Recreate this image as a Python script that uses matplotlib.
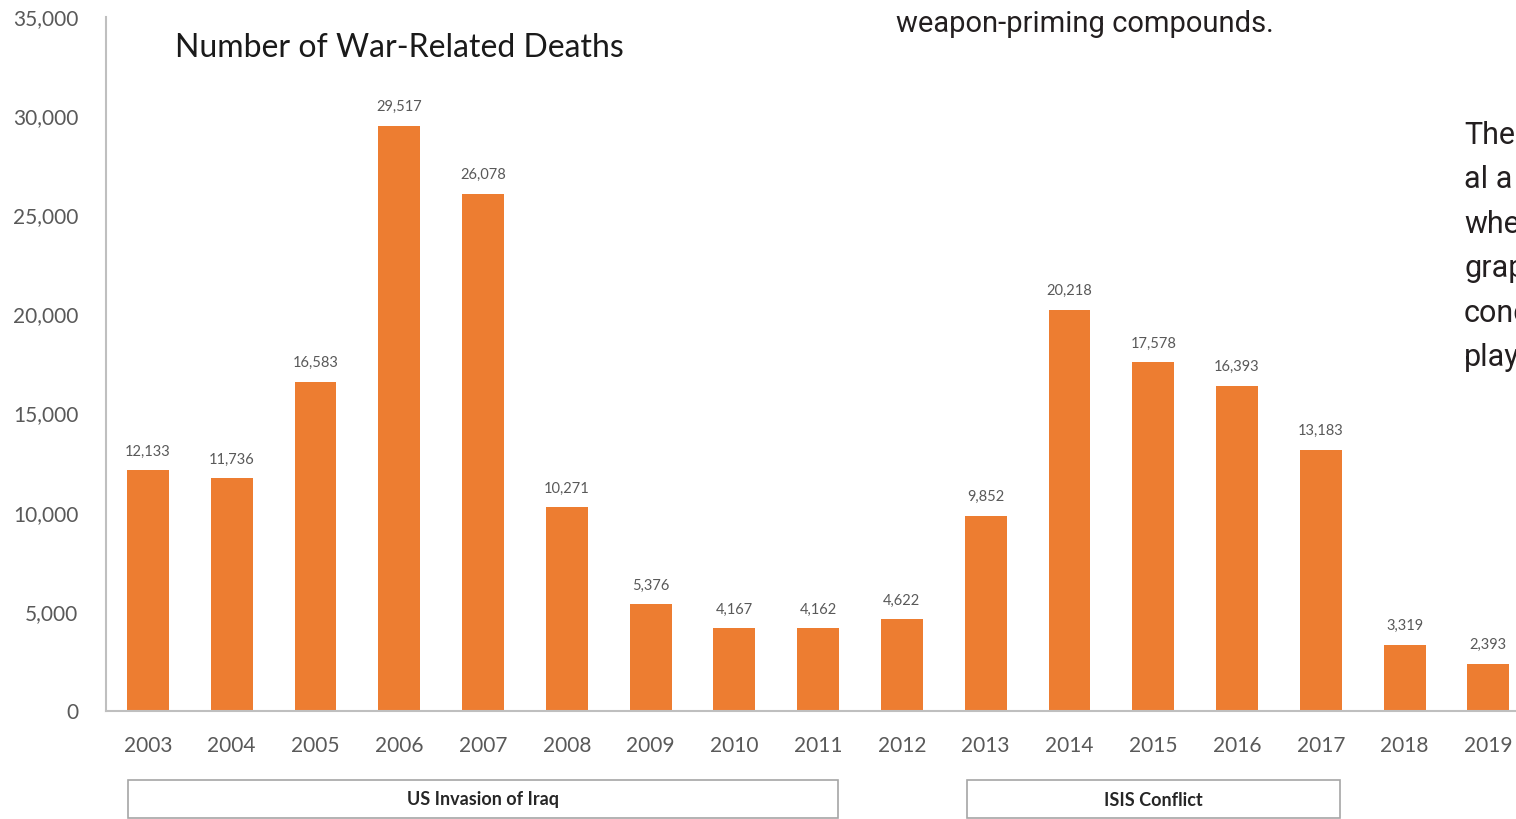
import matplotlib
matplotlib.use("Agg")
import matplotlib.pyplot as plt
from matplotlib.patches import Rectangle
import matplotlib.transforms as mtransforms

years = ["2003", "2004", "2005", "2006", "2007", "2008", "2009", "2010", "2011",
         "2012", "2013", "2014", "2015", "2016", "2017", "2018", "2019"]
deaths = [12133, 11736, 16583, 29517, 26078, 10271, 5376, 4167, 4162,
          4622, 9852, 20218, 17578, 16393, 13183, 3319, 2393]
periods = ["US Invasion of Iraq", "ISIS Conflict"]
period_span = [(-0.24, 8.24), (9.78, 14.23)]
side_text = ["The", "al a", "whe", "grap", "conc", "play"]

orange = "#ED7D31"
grey = "#595959"

plt.rcParams['font.family'] = ['Lato', 'DejaVu Sans']

fig = plt.figure(figsize=(15.16, 8.19), dpi=100)
ax = fig.add_axes([106 / 1516, 108 / 819, 1 - 106 / 1516, (711 - 17) / 819])

x = list(range(len(years)))
ax.bar(x, deaths, width=0.5, color=orange)
for xi, v in zip(x, deaths):
    ax.text(xi, v + 600, f"{v:,}", ha="center", va="bottom", fontsize=10.5, color=grey)

ax.set_xlim(-0.5, 16.33)
ax.set_ylim(0, 35000)
ax.set_yticks(range(0, 35001, 5000))
ax.set_yticklabels([f"{t:,}" for t in range(0, 35001, 5000)])
ax.set_xticks(x)
ax.set_xticklabels(years)
ax.tick_params(axis="y", length=0, pad=20, labelsize=15, labelcolor=grey)
ax.tick_params(axis="x", length=0, pad=18, labelsize=15, labelcolor=grey)
for s in ["top", "right"]:
    ax.spines[s].set_visible(False)
for s in ["left", "bottom"]:
    ax.spines[s].set_color("#BFBFBF")
    ax.spines[s].set_linewidth(1.5)

fig.text(175 / 1516, 1 - 48 / 819, "Number of War-Related Deaths", fontsize=23,
         color="#1a1a1a", ha="left", va="center")

# period boxes below the axis
trans = mtransforms.blended_transform_factory(ax.transData, fig.transFigure)
for name, (x0, x1) in zip(periods, period_span):
    ax.add_patch(Rectangle((x0, 1 / 819), x1 - x0, 38 / 819, transform=trans,
                           facecolor="white", edgecolor="#A6A6A6", linewidth=1.2,
                           clip_on=False))
    ax.text((x0 + x1) / 2, 1 - 800 / 819, name, transform=trans, ha="center",
            va="center", fontsize=13, fontweight="bold", color="#262626")

# surrounding page text (cut off by the page edge, as in the scan)
cond = ['Liberation Sans Narrow', 'Roboto', 'DejaVu Sans']
fig.text(896 / 1516, 1 - 24 / 819, "weapon-priming compounds.", fontsize=21,
         family=cond, color="#231F20", ha="left", va="center")
for i, t in enumerate(side_text):
    fig.text(1464 / 1516, 1 - (135 + 44.6 * i) / 819, t, fontsize=22, family=cond,
             color="#231F20", ha="left", va="center")

fig.savefig("out.png", dpi=100)
